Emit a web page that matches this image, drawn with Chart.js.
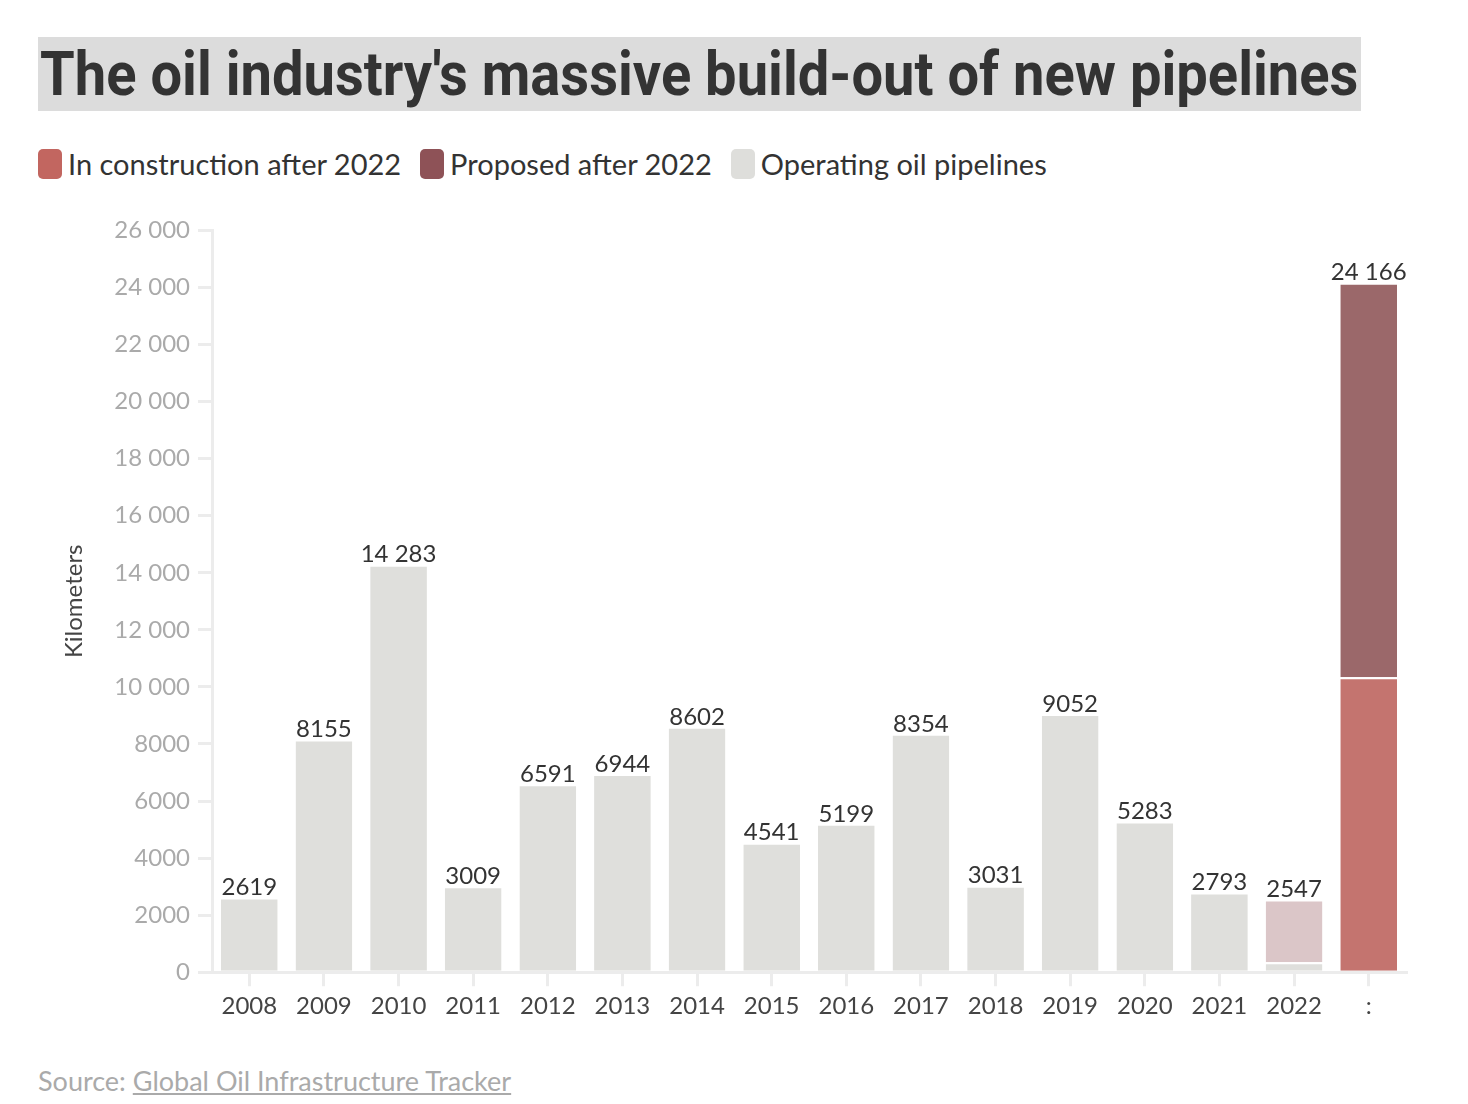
<!DOCTYPE html>
<html>
<head>
<meta charset="utf-8">
<script src="https://cdn.jsdelivr.net/npm/chart.js@4.4.0/dist/chart.umd.min.js"></script>
<style>
  body { margin: 0; background: #fff; font-family: Lato, "Open Sans", sans-serif; color: #333; }
  #titlebox {
    position: absolute; left: 38px; top: 37px; height: 74px; width: 1323px;
    background: #dcdcdc; overflow: hidden;
  }
  #title {
    position: absolute; left: 2px; top: 0;
    font-family: Roboto, sans-serif; font-weight: bold; font-size: 62px; line-height: 74px; color: #333;
    white-space: nowrap; transform-origin: 0 50%;
  }
  #legend { position: absolute; left: 38px; top: 146px; display: flex; align-items: center; font-size: 29px; }
  .item { display: flex; align-items: center; margin-right: 19px; }
  .sw { width: 24px; height: 30px; border-radius: 5px; margin-right: 6px; }
  #wrap { position: absolute; left: 40px; top: 208px; width: 1380px; height: 819px; }
  #source { position: absolute; left: 38px; top: 1064px; font-size: 27px; color: #aaa; }
  #source a { color: #aaa; text-decoration: underline; }
</style>
</head>
<body>
<div id="titlebox"><div id="title">The oil industry's massive build-out of new pipelines</div></div>
<div id="legend">
  <div class="item"><div class="sw" style="background:#c26660"></div>In construction after 2022</div>
  <div class="item"><div class="sw" style="background:#8e5257"></div>Proposed after 2022</div>
  <div class="item"><div class="sw" style="background:#dededb"></div>Operating oil pipelines</div>
</div>
<div id="wrap"><canvas id="chart"></canvas></div>
<div id="source">Source: <a>Global Oil Infrastructure Tracker</a></div>
<script>
const years = ["2008", "2009", "2010", "2011", "2012", "2013", "2014", "2015",
  "2016", "2017", "2018", "2019", "2020", "2021", "2022", ":"];
const operating = [2619, 8155, 14283, 3009, 6591, 6944, 8602, 4541,
  5199, 8354, 3031, 9052, 5283, 2793, 350, null];
const construction2022 = [null, null, null, null, null, null, null, null,
  null, null, null, null, null, null, 2197, null];
const construction = [null, null, null, null, null, null, null, null,
  null, null, null, null, null, null, null, 10340];
const proposed = [null, null, null, null, null, null, null, null,
  null, null, null, null, null, null, null, 13826];
const totals = [2619, 8155, 14283, 3009, 6591, 6944, 8602, 4541,
  5199, 8354, 3031, 9052, 5283, 2793, 2547, 24166];

// squeeze the title to a condensed look
const titleEl = document.getElementById("title");
titleEl.style.transform = "scaleX(" + (1318 / titleEl.offsetWidth) + ")";

function fmt(v) {
  if (v >= 10000) return Math.floor(v / 1000) + " " + String(v % 1000).padStart(3, "0");
  return String(v);
}

// totals on top of each stack
const totalLabels = {
  id: "totalLabels",
  afterDatasetsDraw(chart) {
    const ctx = chart.ctx;
    const y = chart.scales.y;
    const x = chart.scales.x;
    ctx.save();
    ctx.font = "24px Lato";
    ctx.fillStyle = "#333";
    ctx.textAlign = "center";
    ctx.textBaseline = "bottom";
    totals.forEach((t, i) => {
      ctx.fillText(fmt(t), x.getPixelForValue(i), y.getPixelForValue(t) + 2);
    });
    ctx.restore();
  }
};

new Chart(document.getElementById("chart"), {
  type: "bar",
  data: {
    labels: years,
    datasets: [
      { label: "Operating oil pipelines", data: operating, backgroundColor: "#dfdfdc" },
      { label: "In construction 2022", data: construction2022, backgroundColor: "#dbc6c8" },
      { label: "In construction after 2022", data: construction, backgroundColor: "#c4746f" },
      { label: "Proposed after 2022", data: proposed, backgroundColor: "#9b686a" }
    ].map(d => Object.assign(d, {
      borderColor: "#fff", borderWidth: { top: 2 }, borderSkipped: false,
      barPercentage: 0.76, categoryPercentage: 1
    }))
  },
  options: {
    responsive: true,
    maintainAspectRatio: false,
    animation: false,
    layout: { padding: { top: 20, right: 14 } },
    plugins: { legend: { display: false }, tooltip: { enabled: false } },
    scales: {
      x: {
        stacked: true,
        grid: { offset: false, drawOnChartArea: false, drawTicks: true, tickLength: 14, color: "#ececec", lineWidth: 3 },
        border: { color: "#ececec", width: 3 },
        ticks: { color: "#444", font: { family: "Lato", size: 24 }, padding: 6 }
      },
      y: {
        stacked: true,
        min: 0, max: 26000,
        grid: { drawOnChartArea: false, drawTicks: true, tickLength: 14, color: "#ececec", lineWidth: 3 },
        border: { color: "#ececec", width: 3 },
        afterFit(scale) { scale.width = 172; },
        title: { display: true, text: "Kilometers", color: "#444", font: { family: "Lato", size: 24 }, padding: { top: 20 } },
        ticks: { stepSize: 2000, color: "#aaa", font: { family: "Lato", size: 24 }, padding: 8, callback: v => fmt(v) }
      }
    }
  },
  plugins: [totalLabels]
});
</script>
</body>
</html>
